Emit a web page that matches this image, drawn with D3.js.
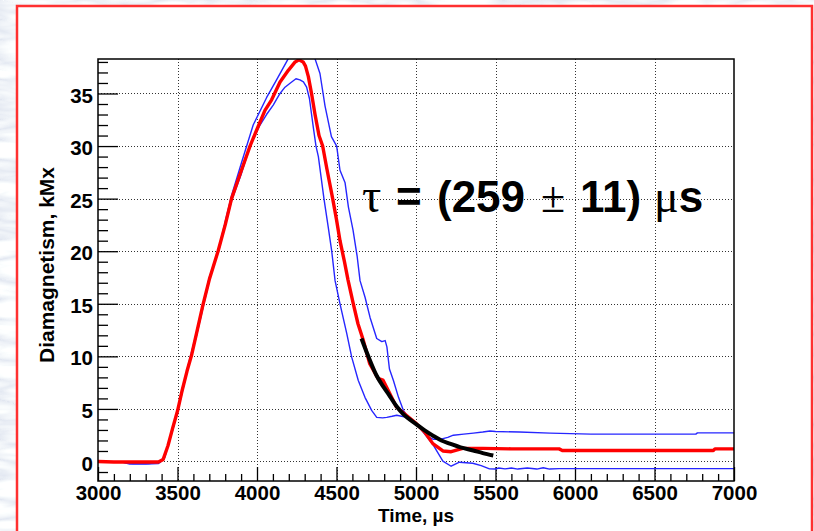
<!DOCTYPE html>
<html><head><meta charset="utf-8">
<script src="https://cdn.jsdelivr.net/npm/d3@7/dist/d3.min.js"></script>
<style>
html,body{margin:0;padding:0;background:#ffffff;}
svg{display:block;}
text{font-family:"Liberation Sans",Arial,Helvetica,sans-serif;}
</style></head>
<body>
<script>
// ---------------- data ----------------
const xTickValues = [3000,3500,4000,4500,5000,5500,6000,6500,7000];
const yTickValues = [0,5,10,15,20,25,30,35];
const xTitle = "Time, \u00b5s";
const yTitle = "Diamagnetism, kMx";

// mean signal (red)
const meanTime = [3000,3100,3200,3300,3380,3410,3440,3470,3500,3530,3560,3590,3620,3660,3700,3755,3800,3840,3900,3956,4000,4050,4092,4145,4197,4240,4264,4290,4305,4323,4343,4365,4390,4413,4440,4476,4500,4522,4550,4572,4604,4635,4667,4709,4761,4792,4824,4876,4939,5002,5054,5106,5169,5221,5294,5420,5600,5900,5920,6870,6880,7000];
const meanValue = [0,-0.05,-0.05,-0.05,-0.05,0.2,1.5,3.2,4.8,6.8,8.6,10.2,12.2,14.9,17.3,20.0,22.5,25.0,27.6,30.0,31.6,33.4,34.4,36.1,37.2,38.0,38.2,38.0,37.6,36.6,35.0,33.0,31.0,30.0,27.8,25.0,23.0,21.0,19.0,17.3,15.1,13.1,11.6,9.3,7.9,7.75,6.8,5.2,4.4,3.6,2.8,1.7,1.0,0.93,1.25,1.25,1.2,1.2,1.05,1.05,1.2,1.2];

// envelope A (blue, higher peak, late decay)
const envATime = [3000,3150,3200,3300,3380,3420,3470,3500,3560,3620,3700,3760,3840,3900,3976,4060,4123,4196,4240,4280,4330,4365,4396,4428,4468,4501,4522,4554,4575,4604,4630,4648,4680,4711,4753,4785,4806,4817,4833,4858,4890,4921,4963,5005,5040,5107,5169,5221,5273,5357,5410,5462,5500,5520,5560,5600,5640,5700,5760,5800,5840,5900,6000,7000];
const envAValue = [-0.05,-0.05,-0.25,-0.25,-0.2,0.5,3.0,4.7,8.5,12.0,17.2,20.3,25.3,28.3,32.0,34.6,36.3,38.3,39.4,39.7,39.2,38.3,36.9,33.8,30.9,30.0,27.7,26.5,24.2,22.0,19.5,17.2,15.6,13.7,11.7,11.4,11.5,10.9,8.8,7.7,6.1,4.86,3.9,3.6,2.9,1.6,0.03,-0.45,-0.07,-0.17,-0.4,-0.7,-0.72,-0.62,-0.7,-0.62,-0.72,-0.62,-0.72,-0.6,-0.72,-0.68,-0.68,-0.68];

// envelope B (blue, lower peak, early decay)
const envBTime = [3000,3150,3220,3320,3390,3420,3470,3500,3560,3620,3700,3760,3840,3900,3960,4019,4060,4102,4140,4176,4210,4245,4270,4292,4312,4330,4354,4371,4386,4421,4448,4470,4491,4522,4564,4596,4637,4679,4721,4753,4790,4816,4850,4879,4942,5005,5050,5070,5110,5151,5200,5235,5300,5361,5420,5465,5500,5650,5843,6100,6760,6770,7000];
const envBValue = [0,-0.05,-0.2,-0.2,-0.1,0.4,3.1,4.9,8.7,12.3,17.5,20.1,24.8,27.3,30.2,32.0,33.0,33.9,34.9,35.6,36.0,36.4,36.3,36.1,35.6,34.5,31.8,30.0,29.0,25.0,22.3,20.0,17.2,15.0,12.2,9.9,7.7,6.1,4.86,4.2,4.15,4.2,4.3,4.4,4.2,3.6,3.0,2.4,2.1,2.1,2.3,2.5,2.6,2.7,2.8,2.9,2.85,2.8,2.7,2.6,2.6,2.72,2.72];

// exponential fit (black)
const fitTime = [4657,4700,4751,4800,4836,4880,4920,4960,5005,5050,5107,5160,5213,5280,5360,5420,5486];
const fitValue = [11.7,10.0,8.2,7.0,6.2,5.2,4.5,4.0,3.5,3.0,2.45,2.0,1.7,1.35,1.05,0.8,0.57];

// ---------------- drawing ----------------
const W = 814, H = 531;
const svg = d3.select("body").append("svg").attr("width", W).attr("height", H);
const defs = svg.append("defs");

// marble-like backdrop
const mf = defs.append("filter").attr("id","marble").attr("x",0).attr("y",0).attr("width","100%").attr("height","100%");
mf.append("feTurbulence").attr("type","turbulence").attr("baseFrequency","0.012 0.05").attr("numOctaves",3).attr("seed",7).attr("result","t");
mf.append("feColorMatrix").attr("in","t").attr("type","matrix")
  .attr("values","0.55 0 0 0 0.76  0.5 0 0 0 0.80  0.3 0 0 0 0.88  0 0 0 0 1");
svg.append("rect").attr("width",W).attr("height",H).attr("filter","url(#marble)");

// white panel with red frame
svg.append("rect").attr("x",17).attr("y",6).attr("width",795).attr("height",H+20)
  .attr("fill","#ffffff").attr("stroke","#ff3030").attr("stroke-width",2.5);

const pLeft = 98, pRight = 734, pTop = 59, pBottom = 481;
const x = d3.scaleLinear().domain([3000,7000]).range([pLeft,pRight]);
const y = d3.scaleLinear().domain([-1.855,38.28]).range([pBottom,pTop]);

defs.append("clipPath").attr("id","plotclip").append("rect")
  .attr("x",pLeft).attr("y",pTop).attr("width",pRight-pLeft).attr("height",pBottom-pTop);

// grid
const grid = svg.append("g").attr("stroke","#333").attr("stroke-width",1).attr("stroke-dasharray","1,2");
grid.selectAll("line.gx").data(xTickValues.filter(v=>v>3000 && v<7000)).join("line")
  .attr("x1",d=>Math.round(x(d))+0.5).attr("x2",d=>Math.round(x(d))+0.5).attr("y1",pTop).attr("y2",pBottom);
grid.selectAll("line.gy").data(yTickValues).join("line")
  .attr("y1",d=>Math.round(y(d))+0.5).attr("y2",d=>Math.round(y(d))+0.5).attr("x1",pLeft).attr("x2",pRight);

// axes
const fmt = d3.format("d");
const yMinor = d3.range(-1,39,1).filter(v=>v%5!==0);
const xMinor = d3.range(3000,7001,100).filter(v=>v%500!==0);

const gy = svg.append("g").attr("transform",`translate(${pLeft},0)`)
  .call(d3.axisLeft(y).tickValues(yTickValues).tickFormat(fmt).tickSize(-20).tickPadding(5));
const gyMinor = svg.append("g").attr("transform",`translate(${pLeft},0)`)
  .call(d3.axisLeft(y).tickValues(yMinor).tickFormat("").tickSize(-10));
const gx = svg.append("g").attr("transform",`translate(0,${pBottom})`)
  .call(d3.axisBottom(x).tickValues(xTickValues).tickFormat(fmt).tickSize(-14).tickPadding(4));
const gxMinor = svg.append("g").attr("transform",`translate(0,${pBottom})`)
  .call(d3.axisBottom(x).tickValues(xMinor).tickFormat("").tickSize(-7));

[gy,gyMinor,gx,gxMinor].forEach(g=>{
  g.select(".domain").remove();
  g.selectAll(".tick line").attr("stroke","#000").attr("stroke-width",1.3);
  g.selectAll("text").attr("font-size",20.5).attr("font-weight","bold").attr("fill","#000")
   .attr("font-family","'Liberation Sans',Arial,sans-serif");
});
gy.selectAll("text").attr("dy","0.42em");

// data lines
const lineGen = d3.line().x(d=>x(d[0])).y(d=>y(d[1]));
const plot = svg.append("g").attr("clip-path","url(#plotclip)");
const zip = (a,b)=>a.map((t,i)=>[t,b[i]]);

plot.append("path").datum(zip(envATime,envAValue)).attr("d",lineGen)
  .attr("fill","none").attr("stroke","#2626ff").attr("stroke-width",1.4).attr("stroke-linejoin","round");
plot.append("path").datum(zip(envBTime,envBValue)).attr("d",lineGen)
  .attr("fill","none").attr("stroke","#2626ff").attr("stroke-width",1.4).attr("stroke-linejoin","round");
plot.append("path").datum(zip(meanTime,meanValue)).attr("d",lineGen)
  .attr("fill","none").attr("stroke","#ff0000").attr("stroke-width",3.4).attr("stroke-linejoin","round");
plot.append("path").datum(zip(fitTime,fitValue)).attr("d",d3.line().curve(d3.curveMonotoneX).x(d=>x(d[0])).y(d=>y(d[1])))
  .attr("fill","none").attr("stroke","#000").attr("stroke-width",4).attr("stroke-linecap","butt");

// frame
svg.append("rect").attr("x",pLeft).attr("y",pTop).attr("width",pRight-pLeft).attr("height",pBottom-pTop)
  .attr("fill","none").attr("stroke","#000").attr("stroke-width",1.5);

// axis titles
svg.append("text").attr("x",(pLeft+pRight)/2).attr("y",522).attr("text-anchor","middle")
  .attr("font-size",19).attr("font-weight","bold").text(xTitle);
svg.append("text").attr("transform","translate(54,265) rotate(-90)").attr("text-anchor","middle")
  .attr("font-size",21).attr("font-weight","bold").text(yTitle);

// annotation
const ann = svg.append("text").attr("y",212).attr("font-size",44).attr("fill","#000");
const serif = "'Liberation Serif','Times New Roman',serif";
ann.append("tspan").attr("x",362).attr("font-family",serif).attr("font-size",48).text("\u03c4");
ann.append("tspan").attr("x",396).attr("font-weight","bold").text("=");
ann.append("tspan").attr("x",437).attr("font-weight","bold").text("(259");
ann.append("tspan").attr("x",541).attr("font-family",serif).text("\u00b1");
ann.append("tspan").attr("x",580).attr("font-weight","bold").text("11)");
ann.append("tspan").attr("x",654).attr("font-family",serif).attr("font-size",46).text("\u03bc");
ann.append("tspan").attr("font-weight","bold").text("s");
</script>
</body></html>
